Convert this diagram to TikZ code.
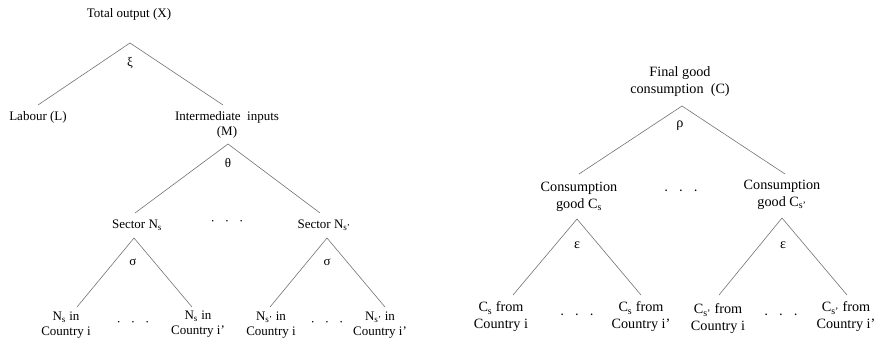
\documentclass[tikz,border=0pt]{standalone}
\usepackage{fontspec}
\setmainfont{Liberation Serif}
\begin{document}
\begin{tikzpicture}[x=1pt,y=-1pt,
  txt/.style={inner sep=0pt,align=center,font=\fontsize{13}{15}\selectfont},
  txtw/.style={inner sep=0pt,align=center,font=\fontsize{14.2}{17}\selectfont},
  branch/.style={draw=black!55,line width=0.6pt}]
\useasboundingbox (0,0) rectangle (875,339);
\newcommand{\dotsrow}{·\hspace{10pt}·\hspace{10pt}·}
% ---------- left tree ----------
\node[txt] (X) at (129,14) {Total output (X)};
\coordinate (Xa) at (130,43);
\coordinate (XL) at (38,105);
\coordinate (XM) at (223,105);
\node[txt] (xi) at (130,63) {ξ};
\node[txt] (L) at (38,117) {Labour (L)};
\node[txt] (M) at (227,124.5) {Intermediate\ \ inputs\\(M)};
\draw[branch] (XL) -- (Xa) -- (XM);
\coordinate (Ma) at (228,144);
\coordinate (M1) at (135,213);
\coordinate (M2) at (320,213);
\node[txt] (theta) at (228,163) {θ};
\draw[branch] (M1) -- (Ma) -- (M2);
\node[txt] (Ns) at (137,225) {Sector N\textsubscript{s}};
\node[txt] (Md) at (227,223) {\dotsrow};
\node[txt] (Nsp) at (324,225) {Sector N\textsubscript{s’}};
\coordinate (Na) at (134,238);
\coordinate (N1) at (77,307);
\coordinate (N2) at (192,307);
\node[txt] (sig1) at (133,262) {σ};
\draw[branch] (N1) -- (Na) -- (N2);
\coordinate (Npa) at (327,238);
\coordinate (Np1) at (270,307);
\coordinate (Np2) at (385,307);
\node[txt] (sig2) at (327,262) {σ};
\draw[branch] (Np1) -- (Npa) -- (Np2);
\node[txt] (b1) at (66,325.5) {N\textsubscript{s} in\\Country i};
\node[txt] (bd1) at (133,324) {\dotsrow};
\node[txt] (b2) at (198,324) {N\textsubscript{s} in\\Country i’};
\node[txt] (b3) at (271,325) {N\textsubscript{s’} in\\Country i};
\node[txt] (bd2) at (327,324) {\dotsrow};
\node[txt] (b4) at (380,325.5) {N\textsubscript{s’} in\\Country i’};
% ---------- right tree ----------
\node[txtw] (C) at (680,81.5) {Final good\\consumption\ \ (C)};
\coordinate (Ca) at (682,106);
\coordinate (C1) at (579,174);
\coordinate (C2) at (785,174);
\node[txtw] (rho) at (680,126) {ρ};
\draw[branch] (C1) -- (Ca) -- (C2);
\node[txtw] (Cs) at (579,196.5) {Consumption\\good C\textsubscript{s}};
\node[txtw] (Cd) at (681,193) {\dotsrow};
\node[txtw] (Csp) at (782,194.5) {Consumption\\good C\textsubscript{s’}};
\coordinate (Sa) at (577,219);
\coordinate (S1) at (513,295);
\coordinate (S2) at (641,295);
\node[txtw] (eps1) at (577,245) {ε};
\draw[branch] (S1) -- (Sa) -- (S2);
\coordinate (Spa) at (782,218);
\coordinate (Sp1) at (719,295);
\coordinate (Sp2) at (847,295);
\node[txtw] (eps2) at (783,245) {ε};
\draw[branch] (Sp1) -- (Spa) -- (Sp2);
\node[txtw] (c1) at (501,317) {C\textsubscript{s} from\\Country i};
\node[txtw] (cd1) at (577,317) {\dotsrow};
\node[txtw] (c2) at (641,317) {C\textsubscript{s} from\\Country i’};
\node[txtw] (c3) at (718,319) {C\textsubscript{s’} from\\Country i};
\node[txtw] (cd2) at (781,317) {\dotsrow};
\node[txtw] (c4) at (846,317) {C\textsubscript{s’} from\\Country i’};
\end{tikzpicture}
\end{document}
